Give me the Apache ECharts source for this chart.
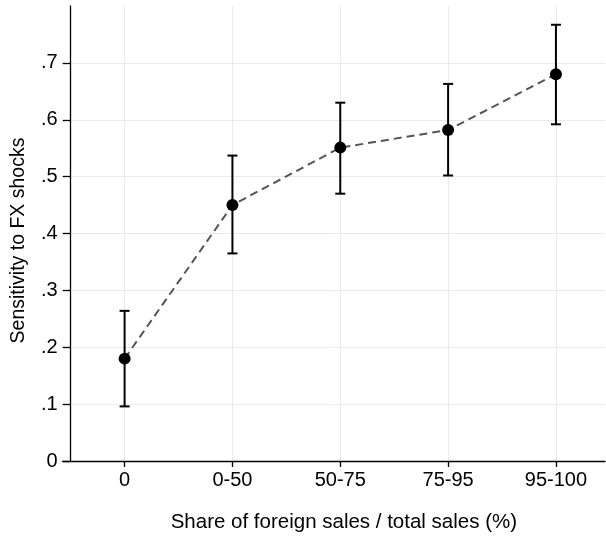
<!DOCTYPE html>
<html>
<head>
<meta charset="utf-8">
<script src="https://cdn.jsdelivr.net/npm/echarts@6/dist/echarts.min.js"></script>
<style>html,body{margin:0;padding:0;background:#fff}#c{width:606px;height:537px}</style>
</head>
<body>
<div id="c"></div>
<script>
var categories = ['0', '0-50', '50-75', '75-95', '95-100'];
var catPositions = [1, 2, 3, 4, 5];
var estimates = [0.180, 0.450, 0.551, 0.582, 0.680];
var ciLower = [0.096, 0.365, 0.470, 0.502, 0.592];
var ciUpper = [0.264, 0.537, 0.630, 0.663, 0.767];
var yTicks = [0, 0.1, 0.2, 0.3, 0.4, 0.5, 0.6, 0.7];

var chart = echarts.init(document.getElementById('c'));
var FONT = '"Liberation Sans", Arial, sans-serif';
var pts = catPositions.map(function (x, i) { return [x, estimates[i]]; });
var bars = catPositions.map(function (x, i) { return [x, ciLower[i], ciUpper[i]]; });

chart.setOption({
  animation: false,
  grid: { left: 62.7, right: 1, top: 6, bottom: 76, outerBoundsMode: 'none', containLabel: false },
  xAxis: {
    type: 'value',
    min: 0.426, max: 5.455,
    name: 'Share of foreign sales / total sales (%)',
    nameLocation: 'middle',
    nameGap: 51,
    nameTextStyle: { fontFamily: FONT, fontSize: 20.5, color: '#000', padding: [0, 0, 0, 20] },
    axisLine: { lineStyle: { color: '#000', width: 1.3 } },
    axisTick: { show: true, length: 6, lineStyle: { color: '#000', width: 1.3 }, customValues: catPositions },
    axisLabel: {
      fontFamily: FONT, fontSize: 20, color: '#000', margin: 9,
      customValues: catPositions,
      formatter: function (v) { return categories[Math.round(v) - 1] || ''; }
    },
    splitLine: { show: true, lineStyle: { color: '#eaeaea', width: 1 } }
  },
  yAxis: {
    type: 'value',
    min: 0, max: 0.8,
    offset: -8,
    name: 'Sensitivity to FX shocks',
    nameLocation: 'middle',
    nameGap: 42,
    nameTextStyle: { fontFamily: FONT, fontSize: 19.5, color: '#000', padding: [0, 14, 0, 0] },
    axisLine: { show: true, lineStyle: { color: '#000', width: 1.3 } },
    axisTick: { show: true, length: 8, lineStyle: { color: '#000', width: 1.3 }, customValues: yTicks },
    axisLabel: {
      fontFamily: FONT, fontSize: 20, color: '#000', margin: 13,
      customValues: yTicks,
      formatter: function (v) { if (Math.abs(v) < 1e-9) return '0'; return String(Math.round(v * 10) / 10).replace(/^0/, ''); }
    },
    splitLine: { show: true, lineStyle: { color: '#eaeaea', width: 1 } }
  },
  series: [
    {
      type: 'line', data: pts, symbol: 'none', z: 2,
      lineStyle: { color: '#555', width: 2, type: [8, 5] }
    },
    {
      type: 'custom', data: bars, z: 3,
      renderItem: function (params, api) {
        var x = api.value(0);
        var lo = api.coord([x, api.value(1)]);
        var hi = api.coord([x, api.value(2)]);
        var w = 5;
        var st = { stroke: '#000', lineWidth: 2 };
        return {
          type: 'group',
          children: [
            { type: 'line', shape: { x1: lo[0], y1: lo[1], x2: hi[0], y2: hi[1] }, style: st },
            { type: 'line', shape: { x1: lo[0] - w, y1: lo[1], x2: lo[0] + w, y2: lo[1] }, style: st },
            { type: 'line', shape: { x1: hi[0] - w, y1: hi[1], x2: hi[0] + w, y2: hi[1] }, style: st }
          ]
        };
      }
    },
    {
      type: 'scatter', data: pts, z: 4, symbol: 'circle', symbolSize: 12,
      itemStyle: { color: '#000', opacity: 1 }
    }
  ]
});
</script>
</body>
</html>
